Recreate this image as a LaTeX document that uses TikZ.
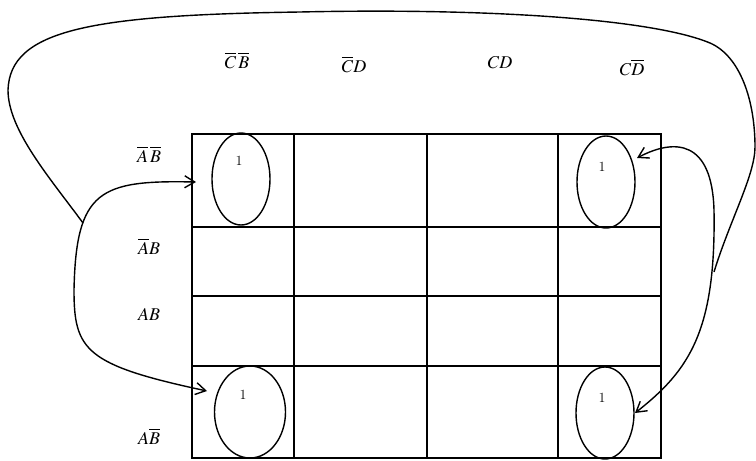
\documentclass[tikz,border=0pt]{standalone}
\usepackage{mathptmx}
\usetikzlibrary{shapes.geometric,arrows.meta}
\begin{document}
\begin{tikzpicture}[x=1pt,y=-1pt,line width=1.4pt,
    >={Straight Barb[length=10pt,width=12pt]},
    nhan/.style={anchor=base,font=\fontsize{18}{21}\selectfont},
    vong/.style={draw,ellipse,inner sep=0pt,minimum width=58pt,minimum height=92pt},
    so/.style={font=\fontsize{14}{16}\selectfont}]
    % Khung hình
    \useasboundingbox (0,0) rectangle (756,461);
    
    % Vẽ bảng Karnaugh
    \draw (192,134) rectangle (661,458);
    \foreach \x in {294,427,558}
    \draw (\x,134) -- (\x,458);
    \foreach \y in {227,296,366}
    \draw (192,\y) -- (661,\y);
    
    % Nhãn cột
    \node[nhan] (c1) at (237,68) {$\overline{C}\,\overline{B}$};
    \node[nhan] (c2) at (354,72) {$\overline{C}D$};
    \node[nhan] (c3) at (500,68) {$CD$};
    \node[nhan] (c4) at (632,75) {$C\overline{D}$};
    
    % Nhãn hàng
    \node[nhan] (h1) at (149,162) {$\overline{A}\,\overline{B}$};
    \node[nhan] (h2) at (149,254) {$\overline{A}B$};
    \node[nhan] (h3) at (149,320) {$AB$};
    \node[nhan] (h4) at (149,444) {$A\overline{B}$};
    
    % Các ô có giá trị 1
    \node[vong] (o1) at (241,179) {};
    \node[vong] (o2) at (606,182) {};
    \node[vong,minimum width=71pt] (o3) at (250,412) {};
    \node[vong] (o4) at (605,413) {};
    \node[so] (s1) at (239,161) {1};
    \node[so] (s2) at (602,167) {1};
    \node[so] (s3) at (243,395) {1};
    \node[so] (s4) at (602,398) {1};
    
    % Điểm đầu mũi tên và điểm nối
    \coordinate (vao1) at (196,182);
    \coordinate (vao2) at (637,158);
    \coordinate (vao3) at (207,391);
    \coordinate (vao4) at (635,413);
    \coordinate (noitrai) at (83,223);
    \coordinate (noiphai) at (714,272);
    
    % Mũi tên hai bên
    \draw[<->] (vao1) .. controls (100,180) and (76,190) .. (74,290)
        .. controls (74,350) and (85,365) .. (vao3);
    \draw[<->] (vao2) .. controls (675,138) and (712,140) .. (714,210)
        .. controls (716,330) and (690,370) .. (vao4);
    
    % Đường vòng nối hai bên
    \draw (noitrai) .. controls (50,178) and (8,130) .. (8,90)
        .. controls (10,30) and (90,15) .. (300,12)
        .. controls (480,8) and (650,18) .. (710,43)
        .. controls (740,56) and (755,100) .. (755,147)
        .. controls (755,175) and (730,220) .. (noiphai);
\end{tikzpicture}
\end{document}
